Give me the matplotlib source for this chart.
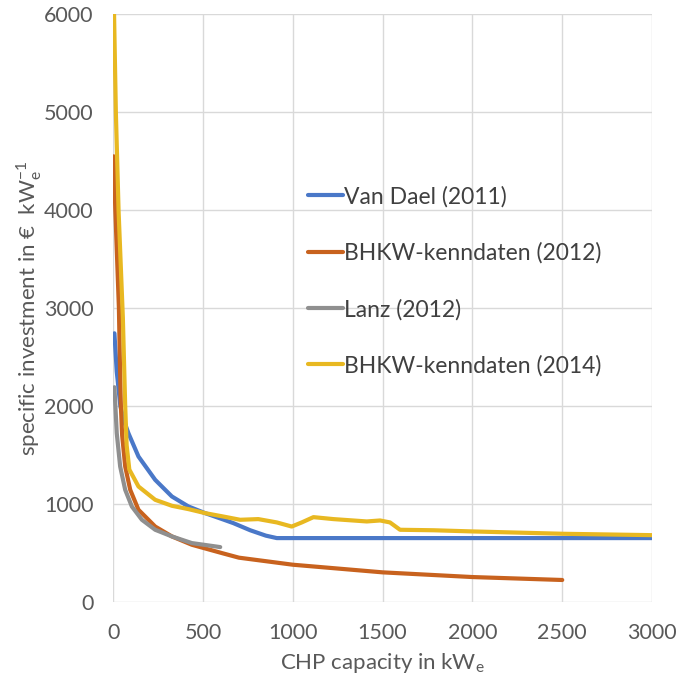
import matplotlib.pyplot as plt

plt.rcParams['font.family'] = ['Lato', 'DejaVu Sans']

# Van Dael (2011)
x_vd = [7, 20, 40, 60, 85, 141, 234, 327, 419, 512, 605, 669, 763, 850, 911, 1000, 1500, 2000, 2500, 3000]
y_vd = [2742, 2350, 2000, 1850, 1721, 1483, 1245, 1075, 973, 905, 845, 803, 730, 675, 650, 650, 650, 650, 650, 650]

# BHKW-kenndaten (2012)
x_b12 = [3, 12, 22, 32, 38, 43, 50, 67, 95, 141, 234, 327, 438, 605, 700, 1000, 1500, 2000, 2500]
y_b12 = [4550, 4000, 3500, 3000, 2400, 2000, 1700, 1381, 1143, 939, 768, 667, 582, 497, 450, 378, 300, 252, 222]

# Lanz (2012)
x_lz = [7, 20, 39, 67, 104, 160, 234, 327, 438, 596]
y_lz = [2191, 1721, 1381, 1143, 973, 837, 735, 667, 599, 558]

# BHKW-kenndaten (2014)
x_b14 = [5, 15, 30, 54, 67, 75, 90, 141, 234, 327, 419, 512, 614, 707, 808, 911, 994,
         1050, 1115, 1226, 1412, 1486, 1541, 1597, 1783, 2000, 2506, 3000]
y_b14 = [6000, 5000, 4000, 2900, 2000, 1600, 1350, 1177, 1041, 980, 946, 905, 870, 837,
         844, 810, 768, 810, 864, 844, 820, 830, 810, 735, 730, 718, 694, 680]

fig, ax = plt.subplots(figsize=(6.9, 6.83), dpi=100)
fig.subplots_adjust(left=0.164, right=0.945, bottom=0.119, top=0.979)

lw = 3.0
ax.plot(x_vd, y_vd, color='#4a78c8', lw=lw, label='Van Dael (2011)', solid_capstyle='round')
ax.plot(x_b12, y_b12, color='#c8621e', lw=lw, label='BHKW-kenndaten (2012)', solid_capstyle='round')
ax.plot(x_lz, y_lz, color='#8f8f8f', lw=lw, label='Lanz (2012)', solid_capstyle='round')
ax.plot(x_b14, y_b14, color='#e8b821', lw=lw, label='BHKW-kenndaten (2014)', solid_capstyle='round')

ax.set_xlim(0, 3000)
ax.set_ylim(0, 6000)
ax.set_xticks(range(0, 3001, 500))
ax.set_yticks(range(0, 6001, 1000))
ax.grid(True, color='#d9d9d9', lw=1)
ax.set_axisbelow(True)
for s in ax.spines.values():
    s.set_visible(False)
ax.tick_params(length=0, labelsize=15.5, colors='#595959')
ax.tick_params(axis='x', pad=15)
ax.tick_params(axis='y', pad=14)

ax.set_xlabel('CHP capacity in kW$_\\mathregular{e}$', fontsize=16, color='#595959', labelpad=6)
ax.set_ylabel('specific investment in €  kW$_\\mathregular{e}^\\mathregular{-1}$', fontsize=16,
              color='#595959')
ax.yaxis.set_label_coords(-0.128, 0.5)

leg = ax.legend(loc='upper left', bbox_to_anchor=(0.323, 0.743), frameon=False, fontsize=16.5,
                labelspacing=1.52, handlelength=1.53, handletextpad=0.05)
for t in leg.get_texts():
    t.set_color('#404040')

fig.savefig('out.png', dpi=100)
